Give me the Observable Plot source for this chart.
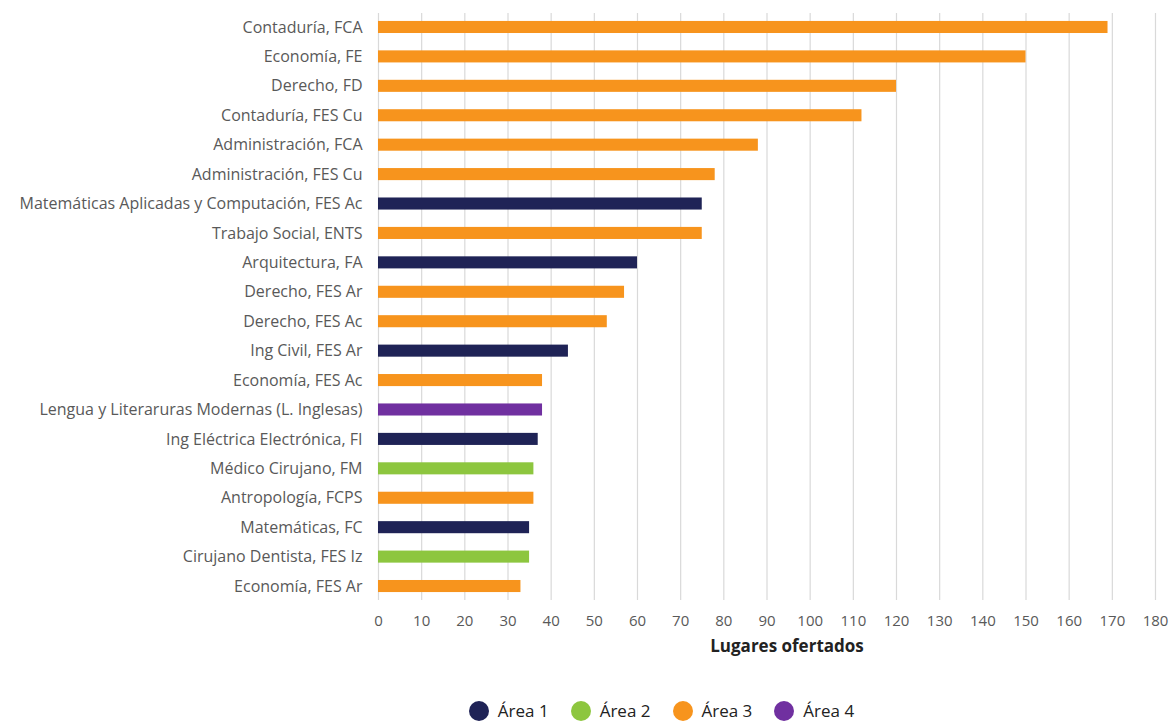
<!DOCTYPE html>
<html><head><meta charset="utf-8">
<script src="https://cdn.jsdelivr.net/npm/d3@7"></script>
<script src="https://cdn.jsdelivr.net/npm/@observablehq/plot@0.6"></script>
<style>
body{margin:0;background:#fff;font-family:"Open Sans",sans-serif;}
#legend{display:flex;justify-content:center;gap:22px;margin-top:34px;padding-left:154px;font-size:17px;color:#222;}
#legend span{display:flex;align-items:center;gap:9px;}
#legend i{display:inline-block;width:20px;height:20px;border-radius:50%;}
</style></head>
<body><div id="chart"></div><div id="legend"></div>
<script>
const programas = ["Contaduría, FCA","Economía, FE","Derecho, FD","Contaduría, FES Cu","Administración, FCA","Administración, FES Cu","Matemáticas Aplicadas y Computación, FES Ac","Trabajo Social, ENTS","Arquitectura, FA","Derecho, FES Ar","Derecho, FES Ac","Ing Civil, FES Ar","Economía, FES Ac","Lengua y Literaruras Modernas (L. Inglesas)","Ing Eléctrica Electrónica, FI","Médico Cirujano, FM","Antropología, FCPS","Matemáticas, FC","Cirujano Dentista, FES Iz","Economía, FES Ar"];
const lugares = [169,150,120,112,88,78,75,75,60,57,53,44,38,38,37,36,36,35,35,33];
const areas = ["Área 3","Área 3","Área 3","Área 3","Área 3","Área 3","Área 1","Área 3","Área 1","Área 3","Área 3","Área 1","Área 3","Área 4","Área 1","Área 2","Área 3","Área 1","Área 2","Área 3"];
const areaNames = ["Área 1","Área 2","Área 3","Área 4"];
const areaColors = ["#1f2356","#8dc63f","#f7941d","#7030a0"];
const xTicks = d3.range(0,181,10);
const xLabel = "Lugares ofertados";

const data = programas.map((p,i)=>({programa:p, lugares:lugares[i], area:areas[i]}));

const chart = Plot.plot({
  width:1169, height:665,
  marginLeft:378, marginRight:14, marginTop:13, marginBottom:65,
  style:{fontFamily:"Open Sans, sans-serif", fontSize:"15px", color:"#595959", background:"#fff"},
  x:{domain:[0,180], label:null},
  y:{domain:programas, label:null, paddingInner:0.59, paddingOuter:0.27, round:false},
  color:{domain:areaNames, range:areaColors},
  marks:[
    Plot.gridX(xTicks,{stroke:"#d9d9d9", strokeOpacity:1, strokeWidth:1.2}),
    Plot.barX(data,{y:"programa", x:"lugares", fill:"area"}),
    Plot.axisX({ticks:xTicks, tickSize:0, tickPadding:15, fontSize:15, label:null}),
    Plot.axisY({tickSize:0, tickPadding:16, fontSize:16, label:null}),
    Plot.text([xLabel],{frameAnchor:"bottom", dx:20, dy:51, text:d=>d, fontWeight:"bold", fontSize:17, fill:"#222"})
  ]
});
document.getElementById("chart").append(chart);

const lg = document.getElementById("legend");
areaNames.forEach((n,i)=>{
  const s=document.createElement("span");
  s.innerHTML=`<i style="background:${areaColors[i]}"></i>${n}`;
  lg.append(s);
});
</script></body></html>
